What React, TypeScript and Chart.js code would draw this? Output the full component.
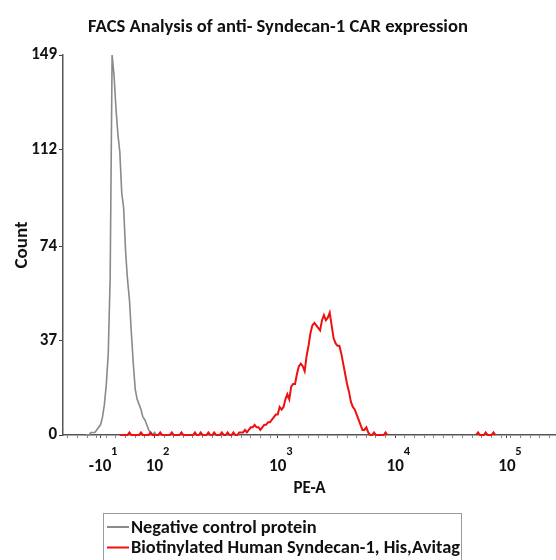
import { useEffect, useRef } from 'react';
import { Chart, registerables } from 'chart.js';

Chart.register(...registerables);

const chartTitle = 'FACS Analysis of anti- Syndecan-1 CAR expression';
const xAxisTitle = 'PE-A';
const yAxisTitle = 'Count';
const seriesNames = ['Negative control protein', 'Biotinylated Human Syndecan-1, His,Avitag'];
const seriesColors = ['#8a8a8a', '#ee1111'];

const channelMax = 1024;
const binWidth = 4;
const xMinorStep = 20;
const xTickChannels = [77, 190, 446, 690, 922];
const xTickBases = ['-10', '10', '10', '10', '10'];
const xTickExponents = ['1', '2', '3', '4', '5'];
const yMax = 149;
const yTickValues = [0, 37, 74, 112, 149];

const grayFirstBin = 11;
const grayCounts = [
  0, 0, 0, 1, 1, 1, 2, 3, 4, 7, 12, 20, 32, 62, 149, 141, 128, 118, 111, 95,
  89, 72, 61, 53, 40, 28, 18, 14, 12, 10, 7, 6, 4, 2, 1, 0, 1, 0,
];

const redFirstBin = 29;
const redCounts = [
  0, 0, 0, 0, 0, 1, 0, 0, 0, 0, 0, 1, 0, 0, 0, 0, 1, 0, 0, 0,
  0, 1, 0, 0, 0, 0, 0, 1, 0, 0, 0, 0, 1, 0, 0, 0, 0, 0, 0, 1,
  0, 0, 1, 0, 0, 0, 1, 0, 0, 1, 0, 0, 0, 1, 0, 0, 1, 0, 0, 1,
  0, 0, 1, 1, 1, 2, 1, 2, 3, 3, 4, 3, 3, 2, 3, 4, 4, 5, 5, 6,
  7, 8, 8, 11, 10, 11, 14, 16, 14, 19, 20, 20, 24, 27, 28, 27, 25, 31, 35, 40,
  43, 44, 43, 42, 41, 45, 47, 45, 46, 48, 43, 38, 36, 35, 35, 32, 28, 24, 20, 17,
  13, 11, 10, 8, 6, 4, 2, 2, 3, 1, 0, 0, 1, 0, 0, 0, 0, 0, 1, 0,
];

const redTailFirstBin = 214;
const redTailCounts = [0, 1, 0, 0, 0, 1, 0, 0, 0, 1, 0];

const FAMILY = 'Carlito, Lato, "Open Sans", sans-serif';
const TEXT = '#111111';
const TICK_SIZE = 17;
const LEGEND_SIZE = 18.4;

function toPoints(firstBin: number, counts: number[]) {
  return counts.map((c, i) => ({ x: (firstBin + i) * binWidth + binWidth / 2, y: c as number | null }));
}

const exponentPlugin = {
  id: 'exponents',
  afterDraw(chart: any) {
    const xs = chart.scales.x;
    const ctx = chart.ctx as CanvasRenderingContext2D;
    ctx.save();
    xTickChannels.forEach((ch, i) => {
      const px = xs.getPixelForValue(ch);
      ctx.font = `bold ${TICK_SIZE}px ${FAMILY}`;
      const w = ctx.measureText(xTickBases[i]).width;
      ctx.font = `bold 12.5px ${FAMILY}`;
      ctx.fillStyle = TEXT;
      ctx.textAlign = 'center';
      ctx.textBaseline = 'middle';
      ctx.fillText(xTickExponents[i], px + w / 2 + 3, xs.top + 17);
    });
    ctx.restore();
  },
};

const boxLegendPlugin = {
  id: 'boxLegend',
  afterDraw(chart: any) {
    const ctx = chart.ctx as CanvasRenderingContext2D;
    const left = 103;
    const top = 513;
    const right = 461;
    ctx.save();
    ctx.strokeStyle = '#9a9a9a';
    ctx.lineWidth = 1;
    ctx.strokeRect(left + 0.5, top + 0.5, right - left, 60);
    chart.data.datasets.forEach((ds: any, i: number) => {
      const y = top + 14 + i * 20.5;
      ctx.strokeStyle = ds.borderColor;
      ctx.lineWidth = 2;
      ctx.beginPath();
      ctx.moveTo(left + 4, y);
      ctx.lineTo(left + 26, y);
      ctx.stroke();
      ctx.fillStyle = TEXT;
      ctx.font = `bold ${LEGEND_SIZE}px ${FAMILY}`;
      ctx.textAlign = 'left';
      ctx.textBaseline = 'middle';
      ctx.fillText(ds.label, left + 28, y + 1);
    });
    ctx.restore();
  },
};

export default function App() {
  const ref = useRef<HTMLCanvasElement | null>(null);

  useEffect(() => {
    if (!ref.current) return;
    const redData = [
      ...toPoints(redFirstBin, redCounts),
      { x: (redFirstBin + redCounts.length + 1) * binWidth, y: null },
      ...toPoints(redTailFirstBin, redTailCounts),
    ];
    const chart = new Chart(ref.current, {
      type: 'line',
      data: {
        datasets: [
          {
            label: seriesNames[0],
            data: toPoints(grayFirstBin, grayCounts),
            borderColor: seriesColors[0],
            borderWidth: 1.6,
            pointRadius: 0,
            tension: 0,
            clip: 6,
            order: 1,
          },
          {
            label: seriesNames[1],
            data: redData,
            borderColor: seriesColors[1],
            borderWidth: 2,
            pointRadius: 0,
            tension: 0,
            spanGaps: false,
            clip: 6,
            order: 0,
          },
        ],
      },
      options: {
        responsive: false,
        animation: false,
        events: [],
        layout: { padding: { left: 0, right: 0, top: 0, bottom: 60 } },
        plugins: {
          legend: { display: false },
          tooltip: { enabled: false },
          title: {
            display: true,
            text: chartTitle,
            color: TEXT,
            font: { family: FAMILY, size: 18.6, weight: 'bold' },
            padding: { top: 15.8, bottom: 16.9 },
          },
        },
        scales: {
          x: {
            type: 'linear',
            min: 0,
            max: channelMax,
            afterFit: (s: any) => {
              s.height = 65;
              s.paddingLeft = 0;
              s.paddingRight = 0;
            },
            afterBuildTicks: (s: any) => {
              const vals = new Set<number>(xTickChannels);
              for (let v = 10; v < channelMax; v += xMinorStep) {
                if (!xTickChannels.some((c) => Math.abs(c - v) < 6)) vals.add(v);
              }
              s.ticks = Array.from(vals)
                .sort((a, b) => a - b)
                .map((v) => ({ value: v }));
            },
            ticks: {
              autoSkip: false,
              maxRotation: 0,
              minRotation: 0,
              padding: 18.5,
              color: TEXT,
              font: { family: FAMILY, size: TICK_SIZE, weight: 'bold' },
              callback: (v: any) => {
                const idx = xTickChannels.indexOf(Number(v));
                return idx >= 0 ? xTickBases[idx] : '';
              },
            },
            grid: {
              drawOnChartArea: false,
              drawTicks: true,
              tickLength: 3,
              tickWidth: 1,
              tickColor: (c: any) =>
                c.tick && xTickChannels.includes(c.tick.value) ? '#444' : '#888',
            },
            border: { display: true, color: '#555', width: 1.5 },
            title: {
              display: true,
              text: xAxisTitle,
              color: TEXT,
              font: { family: FAMILY, size: 17, weight: 'bold' },
              padding: { top: 0, bottom: 1 },
            },
          },
          y: {
            type: 'linear',
            min: 0,
            max: yMax,
            afterFit: (s: any) => {
              s.width = 63;
            },
            afterBuildTicks: (s: any) => {
              s.ticks = yTickValues.map((v) => ({ value: v }));
            },
            ticks: {
              padding: 2,
              color: TEXT,
              font: { family: FAMILY, size: TICK_SIZE, weight: 'bold' },
            },
            grid: {
              drawOnChartArea: false,
              drawTicks: true,
              tickLength: 4,
              tickColor: '#444',
            },
            border: { display: true, color: '#555', width: 1.5 },
            title: {
              display: true,
              text: yAxisTitle,
              color: TEXT,
              font: { family: FAMILY, size: 19, weight: 'bold' },
              padding: { top: 10.6, bottom: 0 },
            },
          },
        },
      },
      plugins: [exponentPlugin, boxLegendPlugin],
    });
    return () => chart.destroy();
  }, []);

  return (
    <div style={{ position: 'absolute', left: 0, top: 0, width: 556, height: 560, background: '#fff' }}>
      <canvas ref={ref} width={556} height={560} />
    </div>
  );
}
